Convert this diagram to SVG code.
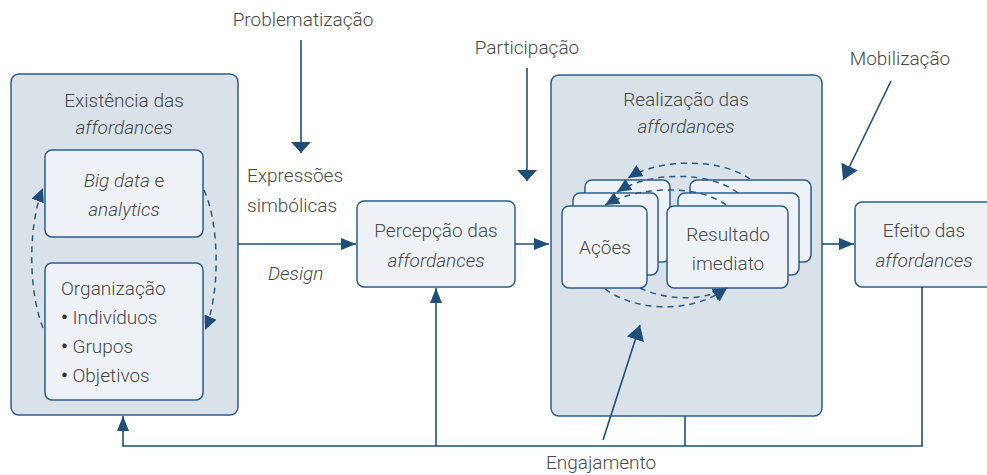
<svg xmlns="http://www.w3.org/2000/svg" width="987" height="475" viewBox="0 0 987 475">
<style>
text{font-family:Roboto,"Liberation Sans",sans-serif;font-weight:300;font-size:19px;fill:#474747}
.i{font-style:italic}
.m{text-anchor:middle}
.bu{font-weight:700;fill:#333}
.outer{fill:#d9e2e9;stroke:#2d5d89;stroke-width:1.5}
.inner{fill:#eef2f7;stroke:#2d5d89;stroke-width:1.5}
.ln{fill:none;stroke:#1f4e79;stroke-width:1.6}
.ds{fill:none;stroke:#2a5884;stroke-width:1.5;stroke-dasharray:6 5}
</style>
<defs>
<marker id="a" markerUnits="userSpaceOnUse" markerWidth="16" markerHeight="12" refX="15" refY="6" orient="auto"><path d="M0,0L15,6L0,12z" fill="#1f4e79"/></marker>
<marker id="b" markerUnits="userSpaceOnUse" markerWidth="12" markerHeight="20" refX="11" refY="10" orient="auto"><path d="M0,0L11,10L0,20z" fill="#1f4e79"/></marker>
<marker id="c" markerUnits="userSpaceOnUse" markerWidth="15" markerHeight="13" refX="14" refY="6.5" orient="auto"><path d="M0,0L14,6.5L0,13z" fill="#1f4e79"/></marker>
<marker id="d" markerUnits="userSpaceOnUse" markerWidth="16" markerHeight="18" refX="15" refY="9" orient="auto"><path d="M0,0L15,9L0,18z" fill="#1f4e79"/></marker>
</defs>

<g id="existencia">
<rect class="outer" x="11" y="74" width="227" height="341" rx="8"/>
<text class="m" x="124" y="107">Existência das</text>
<text class="m i" x="124" y="134">affordances</text>
</g>
<g id="bigdata">
<rect class="inner" x="45" y="150" width="158" height="87" rx="7"/>
<text class="m" x="124" y="187"><tspan class="i">Big data</tspan> e</text>
<text class="m i" x="124" y="216">analytics</text>
</g>
<g id="organizacao">
<rect class="inner" x="45" y="263" width="158" height="137" rx="7"/>
<text x="61" y="295">Organização</text>
<text x="61" y="324"><tspan class="bu">•</tspan> Indivíduos</text>
<text x="61" y="353"><tspan class="bu">•</tspan> Grupos</text>
<text x="61" y="382"><tspan class="bu">•</tspan> Objetivos</text>
</g>
<g id="percepcao">
<rect class="inner" x="357" y="201" width="158" height="86" rx="7"/>
<text class="m" x="436" y="237">Percepção das</text>
<text class="m i" x="436" y="267">affordances</text>
</g>
<g id="realizacao">
<rect class="outer" x="551" y="75" width="271" height="341" rx="8"/>
<text class="m" x="686" y="106">Realização das</text>
<text class="m i" x="686" y="133">affordances</text>
</g>
<g id="acoes">
<rect class="inner" x="585" y="180" width="85" height="82" rx="7"/>
<rect class="inner" x="573" y="193" width="85" height="82" rx="7"/>
<rect class="inner" x="562" y="206" width="85" height="82" rx="7"/>
<text class="m" x="605" y="254">Ações</text>
</g>
<g id="resultado">
<rect class="inner" x="690" y="180" width="121" height="82" rx="7"/>
<rect class="inner" x="678" y="193" width="121" height="82" rx="7"/>
<rect class="inner" x="667" y="206" width="121" height="82" rx="7"/>
<text class="m" x="728" y="241">Resultado</text>
<text class="m" x="728" y="270">imediato</text>
</g>
<g id="efeito">
<rect class="inner" x="855" y="202" width="140" height="85" rx="7"/>
<text class="m" x="924" y="237">Efeito das</text>
<text class="m i" x="924" y="267">affordances</text>
</g>
<g id="labels">
<text class="m" x="303" y="26">Problematização</text>
<text class="m" x="527" y="54">Participação</text>
<text class="m" x="900" y="65">Mobilização</text>
<text x="247" y="182">Expressões</text>
<text x="247" y="212">simbólicas</text>
<text class="i" x="268" y="280">Design</text>
<text class="m" x="601" y="469">Engajamento</text>
</g>

<g id="connectors">
<path class="ln" d="M301,40V153" marker-end="url(#b)"/>
<path class="ln" d="M527,68V181" marker-end="url(#b)"/>
<path class="ln" d="M891,81L843,180" marker-end="url(#d)"/>
<path class="ln" d="M238,244H356" marker-end="url(#a)"/>
<path class="ln" d="M515,244H549" marker-end="url(#a)"/>
<path class="ln" d="M822,244H854" marker-end="url(#a)"/>
<path class="ln" d="M603,440L640,325" marker-end="url(#d)"/>
<path class="ln" d="M922,287V446H123V416" marker-end="url(#a)"/>
<path class="ln" d="M436,446V288" marker-end="url(#a)"/>
<path class="ln" d="M685,446V416"/>
<path class="ds" d="M43,328C28,290 28,225 43,188" marker-end="url(#c)"/>
<path class="ds" d="M204,190C220,225 220,295 205,330" marker-end="url(#c)"/>
<path class="ds" d="M750,179C720,158 660,158 628,178" marker-end="url(#c)"/>
<path class="ds" d="M738,193C710,171 650,171 617,192" marker-end="url(#c)"/>
<path class="ds" d="M726,205C700,185 640,185 605,205" marker-end="url(#c)"/>
<path class="ds" d="M605,289C640,314 695,312 727,288" marker-end="url(#c)"/>
<path class="ds" d="M640,288C670,302 705,300 727,288" marker-end="url(#c)"/>
</g>
</svg>
